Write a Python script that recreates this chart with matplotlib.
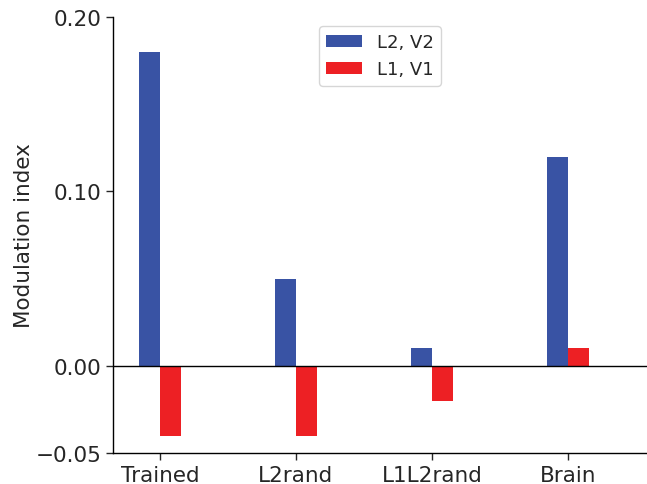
import matplotlib
matplotlib.use("Agg")
import matplotlib.pyplot as plt
import numpy as np
import seaborn as sns

sns.set_style("ticks")
plt.rcParams['font.family'] = ['DejaVu Sans']

categories = ["Trained", "L2rand", "L1L2rand", "Brain"]
l2_v2 = [0.18, 0.05, 0.01, 0.12]
l1_v1 = [-0.04, -0.04, -0.02, 0.01]
series_labels = ["L2, V2", "L1, V1"]
yticks = [-0.05, 0.0, 0.10, 0.20]

fig = plt.figure(figsize=(6.47, 4.85), dpi=100)
ax = fig.add_axes([113/647, 1 - 454/485, (647 - 113)/647, (454 - 18)/485])

x = np.arange(len(categories))
w = 0.155
ax.bar(x - w/2, l2_v2, w, color="#3953a4", linewidth=0, label=series_labels[0])
ax.bar(x + w/2, l1_v1, w, color="#ed2024", linewidth=0, label=series_labels[1])
ax.axhline(0, color="black", lw=1)

ax.set_xticks(x)
ax.set_xticklabels(categories, fontsize=15.5)
ax.set_yticks(yticks)
ax.set_yticklabels(["\u22120.05", "0.00", "0.10", "0.20"], fontsize=15.5)
ax.set_ylim(-0.05, 0.20)
ax.set_xlim(-0.345, 3.58)
ax.set_ylabel("Modulation index", fontsize=15.5, labelpad=1)
ax.tick_params(colors="#262626", length=5, width=1)
for s in ["top", "right"]:
    ax.spines[s].set_visible(False)
for s in ["left", "bottom"]:
    ax.spines[s].set_color("black")
    ax.spines[s].set_linewidth(1)
ax.legend(loc="upper center", fontsize=13, bbox_to_anchor=(0.5, 1.0))

fig.savefig("out.png", dpi=100)
